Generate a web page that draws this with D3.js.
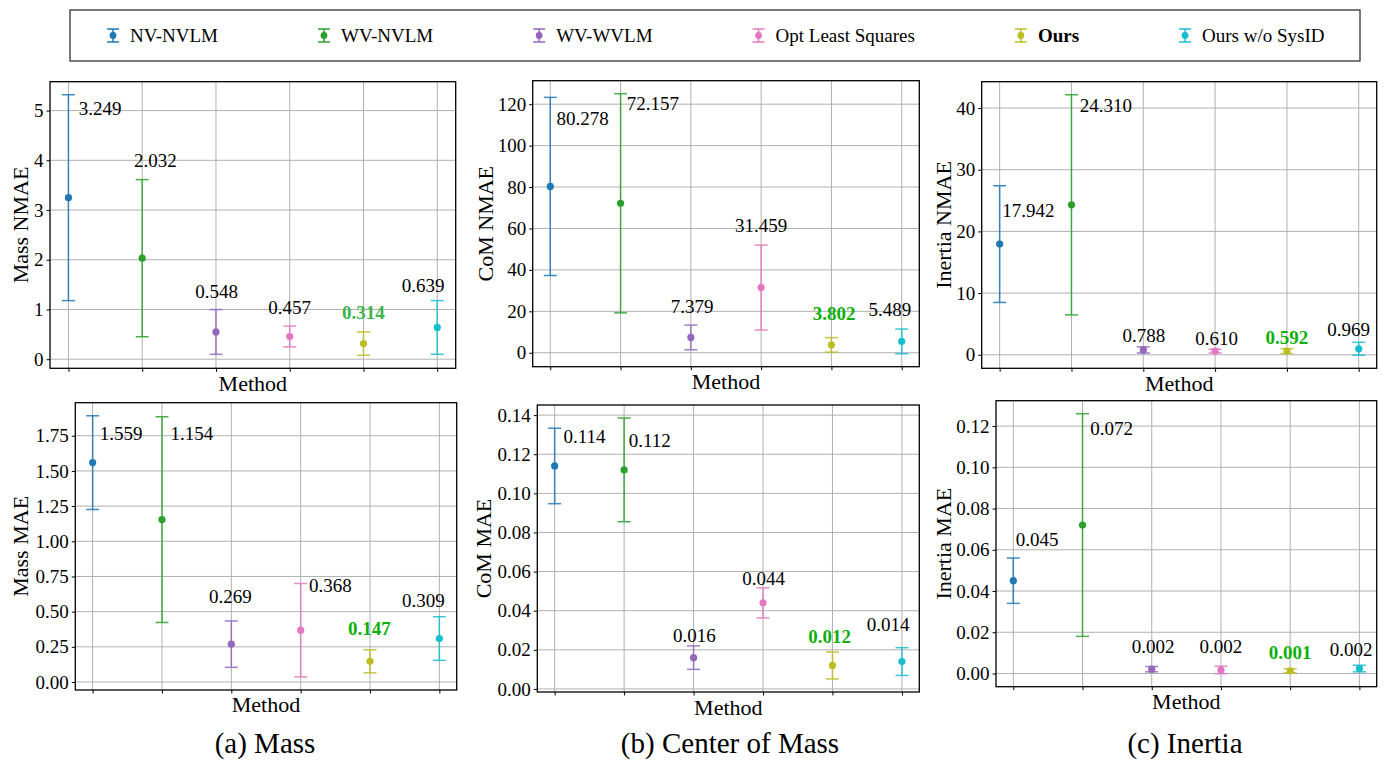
<!DOCTYPE html>
<html>
<head>
<meta charset="utf-8">
<script src="https://cdn.jsdelivr.net/npm/d3@7"></script>
<style>
  body { margin: 0; background: #fff; }
  svg text { font-family: "Liberation Serif", "Times New Roman", serif; }
  .axis path, .axis line { stroke: #000; }
  .axis text { font-size: 19px; fill: #000; }
</style>
</head>
<body>
<div id="chart"></div>
<script>

// ---- data ----
var methods = ["NV-NVLM", "WV-NVLM", "WV-WVLM", "Opt Least Squares", "Ours", "Ours w/o SysID"];
var colors  = ["#1f77b4", "#2ca02c", "#9467bd", "#e377c2", "#bcbd22", "#17becf"];

var massNmaeMean = [3.249, 2.032, 0.548, 0.457, 0.314, 0.639];
var massNmaeStd  = [2.07, 1.58, 0.45, 0.21, 0.235, 0.54];
var massNmaeTicks = [0, 1, 2, 3, 4, 5];

var comNmaeMean = [80.278, 72.157, 7.379, 31.459, 3.802, 5.489];
var comNmaeStd  = [43.0, 52.9, 5.95, 20.5, 3.5, 5.95];
var comNmaeTicks = [0, 20, 40, 60, 80, 100, 120];

var inertiaNmaeMean = [17.942, 24.310, 0.788, 0.610, 0.592, 0.969];
var inertiaNmaeStd  = [9.46, 17.85, 0.5, 0.3, 0.4, 1.05];
var inertiaNmaeTicks = [0, 10, 20, 30, 40];

var massMaeMean = [1.559, 1.154, 0.269, 0.368, 0.147, 0.309];
var massMaeStd  = [0.333, 0.731, 0.165, 0.332, 0.082, 0.155];
var massMaeTicks = [0, 0.25, 0.5, 0.75, 1.0, 1.25, 1.5, 1.75];

var comMaeMean = [0.114, 0.112, 0.016, 0.044, 0.012, 0.014];
var comMaeStd  = [0.0193, 0.0265, 0.006, 0.0077, 0.0069, 0.0071];
var comMaeTicks = [0, 0.02, 0.04, 0.06, 0.08, 0.10, 0.12, 0.14];

var inertiaMaeMean = [0.045, 0.072, 0.0021, 0.0017, 0.0013, 0.0024];
var inertiaMaeStd  = [0.011, 0.054, 0.0013, 0.0018, 0.001, 0.0016];
var inertiaMaeTicks = [0, 0.02, 0.04, 0.06, 0.08, 0.10, 0.12];

// value-label anchors, in data units (x = method index, y = value)
var massNmaeLabelX = [0.43, 1.18, 2.01, 3.0, 4.0, 4.81];
var massNmaeLabelY = [5.05, 4.0, 1.37, 1.04, 0.93, 1.49];
var comNmaeLabelX = [0.46, 1.46, 2.02, 3.0, 4.04, 4.83];
var comNmaeLabelY = [113.0, 120.5, 22.5, 61.4, 18.8, 21.0];
var inertiaNmaeLabelX = [0.40, 1.48, 2.01, 3.02, 4.0, 4.86];
var inertiaNmaeLabelY = [23.4, 40.46, 3.16, 2.62, 2.87, 4.1];
var massMaeLabelX = [0.41, 1.43, 1.985, 3.43, 3.99, 4.77];
var massMaeLabelY = [1.769, 1.769, 0.607, 0.684, 0.378, 0.579];
var comMaeLabelX = [0.43, 1.37, 2.01, 3.01, 3.96, 4.80];
var comMaeLabelY = [0.1293, 0.1272, 0.0275, 0.0564, 0.0269, 0.0331];
var inertiaMaeLabelX = [0.345, 1.42, 2.02, 3.0, 4.0, 4.88];
var inertiaMaeLabelY = [0.0648, 0.119, 0.0131, 0.0131, 0.0104, 0.0115];

var captions = ["(a) Mass", "(b) Center of Mass", "(c) Inertia"];

var svg = d3.select("#chart").append("svg")
    .attr("width", 1384)
    .attr("height", 760);


/*
 * ErrorPanel - one subplot with mean +/- std error bars
 */
ErrorPanel = function(_box, _mean, _std, _ticks, _fmt, _yLabel, _labelX, _labelY, _bestColor){
    this.box = _box;
    this.mean = _mean;
    this.std = _std;
    this.ticks = _ticks;
    this.fmt = _fmt;
    this.yLabel = _yLabel;
    this.labelX = _labelX;
    this.labelY = _labelY;
    this.bestColor = _bestColor;

    this.initVis();
}

ErrorPanel.prototype.initVis = function(){
    var vis = this;
    var b = vis.box;

    vis.width = b.right - b.left;
    vis.height = b.bottom - b.top;

    vis.g = svg.append("g")
        .attr("transform", "translate(" + b.left + "," + b.top + ")");

    vis.data = methods.map(function(m, i){
        return {i: i, name: m, mean: vis.mean[i], lo: vis.mean[i] - vis.std[i], hi: vis.mean[i] + vis.std[i]};
    });

    // matplotlib-like auto limits with 5% margin
    var lo = d3.min(vis.data, function(d){ return d.lo; }),
        hi = d3.max(vis.data, function(d){ return d.hi; }),
        pad = (hi - lo) * 0.05;

    vis.x = d3.scaleLinear().domain([-0.25, methods.length - 1 + 0.25]).range([0, vis.width]);
    vis.y = d3.scaleLinear().domain([lo - pad, hi + pad]).range([vis.height, 0]);

    // grid
    vis.g.append("g").selectAll("line.gy")
        .data(vis.ticks).enter().append("line")
        .attr("x1", 0).attr("x2", vis.width)
        .attr("y1", function(d){ return vis.y(d); })
        .attr("y2", function(d){ return vis.y(d); })
        .attr("stroke", "#b0b0b0").attr("stroke-width", 1);

    vis.g.append("g").selectAll("line.gx")
        .data(vis.data).enter().append("line")
        .attr("y1", 0).attr("y2", vis.height)
        .attr("x1", function(d){ return vis.x(d.i); })
        .attr("x2", function(d){ return vis.x(d.i); })
        .attr("stroke", "#b0b0b0").attr("stroke-width", 1);

    // error bars
    var bars = vis.g.append("g").selectAll("g.bar")
        .data(vis.data).enter().append("g")
        .attr("stroke", function(d){ return colors[d.i]; })
        .attr("stroke-width", 1.5)
        .attr("opacity", 0.85);

    bars.append("line")
        .attr("x1", function(d){ return vis.x(d.i); })
        .attr("x2", function(d){ return vis.x(d.i); })
        .attr("y1", function(d){ return vis.y(d.lo); })
        .attr("y2", function(d){ return vis.y(d.hi); });

    ["lo", "hi"].forEach(function(k){
        bars.append("line")
            .attr("x1", function(d){ return vis.x(d.i) - 6.5; })
            .attr("x2", function(d){ return vis.x(d.i) + 6.5; })
            .attr("y1", function(d){ return vis.y(d[k]); })
            .attr("y2", function(d){ return vis.y(d[k]); });
    });

    vis.g.append("g").selectAll("circle")
        .data(vis.data).enter().append("circle")
        .attr("cx", function(d){ return vis.x(d.i); })
        .attr("cy", function(d){ return vis.y(d.mean); })
        .attr("r", 3.6)
        .attr("fill", function(d){ return colors[d.i]; });

    // value labels
    vis.g.append("g").selectAll("text")
        .data(vis.data).enter().append("text")
        .attr("x", function(d){ return vis.x(vis.labelX[d.i]); })
        .attr("y", function(d){ return vis.y(vis.labelY[d.i]); })
        .attr("text-anchor", "middle")
        .attr("dominant-baseline", "central")
        .style("font-size", "19px")
        .style("font-weight", function(d){ return d.name === "Ours" ? "bold" : "normal"; })
        .attr("fill", function(d){ return d.name === "Ours" ? vis.bestColor : "#000"; })
        .text(function(d){ return d.mean.toFixed(3); });

    // axes
    vis.yAxis = d3.axisLeft(vis.y).tickValues(vis.ticks).tickFormat(d3.format(vis.fmt))
        .tickSizeInner(3.5).tickSizeOuter(0).tickPadding(3);
    vis.xAxis = d3.axisBottom(vis.x).tickValues(d3.range(methods.length)).tickFormat("")
        .tickSizeInner(3.5).tickSizeOuter(0);

    vis.g.append("g").attr("class", "axis").call(vis.yAxis)
        .call(function(g){ g.select(".domain").remove(); });
    vis.g.append("g").attr("class", "axis")
        .attr("transform", "translate(0," + vis.height + ")")
        .call(vis.xAxis)
        .call(function(g){ g.select(".domain").remove(); });

    vis.g.selectAll(".axis line").attr("stroke-width", 1);

    vis.g.append("rect")
        .attr("width", vis.width).attr("height", vis.height)
        .attr("fill", "none").attr("stroke", "#000").attr("stroke-width", 1.3);

    // axis titles
    vis.g.append("text")
        .attr("x", vis.width / 2)
        .attr("y", vis.height + 22.5)
        .attr("text-anchor", "middle")
        .style("font-size", "22px")
        .text("Method");

    vis.g.append("text")
        .attr("transform", "translate(" + (b.yLabelX - b.left) + "," + (vis.height / 2) + ") rotate(-90)")
        .attr("text-anchor", "middle")
        .attr("dominant-baseline", "central")
        .style("font-size", "22px")
        .text(vis.yLabel);
}


// ---- panels ----
new ErrorPanel({left: 50, top: 81.7, right: 455.7, bottom: 368.3, yLabelX: 20},
    massNmaeMean, massNmaeStd, massNmaeTicks, "d", "Mass NMAE", massNmaeLabelX, massNmaeLabelY, "#3cb44b");
new ErrorPanel({left: 532.7, top: 80.7, right: 919.3, bottom: 366.7, yLabelX: 485},
    comNmaeMean, comNmaeStd, comNmaeTicks, "d", "CoM NMAE", comNmaeLabelX, comNmaeLabelY, "#0cb00c");
new ErrorPanel({left: 981.7, top: 81.7, right: 1376.7, bottom: 368.3, yLabelX: 943.7},
    inertiaNmaeMean, inertiaNmaeStd, inertiaNmaeTicks, "d", "Inertia NMAE", inertiaNmaeLabelX, inertiaNmaeLabelY, "#0cb00c");
new ErrorPanel({left: 75.3, top: 402.7, right: 456.7, bottom: 690, yLabelX: 20},
    massMaeMean, massMaeStd, massMaeTicks, ".2f", "Mass MAE", massMaeLabelX, massMaeLabelY, "#0cb00c");
new ErrorPanel({left: 537.3, top: 405, right: 919.3, bottom: 692, yLabelX: 483},
    comMaeMean, comMaeStd, comMaeTicks, ".2f", "CoM MAE", comMaeLabelX, comMaeLabelY, "#0cb00c");
new ErrorPanel({left: 996, top: 400.7, right: 1376.7, bottom: 686.7, yLabelX: 943.7},
    inertiaMaeMean, inertiaMaeStd, inertiaMaeTicks, ".2f", "Inertia MAE", inertiaMaeLabelX, inertiaMaeLabelY, "#0cb00c");

// captions
var captionX = [265, 730, 1185];
svg.selectAll("text.caption")
    .data(captions).enter().append("text")
    .attr("class", "caption")
    .attr("x", function(d, i){ return captionX[i]; })
    .attr("y", 753)
    .attr("text-anchor", "middle")
    .style("font-size", "29px")
    .text(function(d){ return d; });


// ---- legend ----
var legend = svg.append("g");
legend.append("rect")
    .attr("x", 70).attr("y", 10).attr("width", 1290).attr("height", 51)
    .attr("fill", "#fff").attr("stroke", "#333").attr("stroke-width", 1.3);

var lx = 113, ly = 35.5;
methods.forEach(function(m, i){
    var item = legend.append("g");
    item.append("line").attr("x1", lx).attr("x2", lx).attr("y1", ly - 6.5).attr("y2", ly + 6.5)
        .attr("stroke", colors[i]).attr("stroke-width", 1.5);
    [-6.5, 6.5].forEach(function(dy){
        item.append("line").attr("x1", lx - 6).attr("x2", lx + 6).attr("y1", ly + dy).attr("y2", ly + dy)
            .attr("stroke", colors[i]).attr("stroke-width", 1.5);
    });
    item.append("circle").attr("cx", lx).attr("cy", ly).attr("r", 3.4).attr("fill", colors[i]);
    var t = item.append("text")
        .attr("x", lx + 17).attr("y", ly)
        .attr("dominant-baseline", "central")
        .style("font-size", "19px")
        .style("font-weight", m === "Ours" ? "bold" : "normal")
        .text(m);
    lx = lx + 17 + t.node().getComputedTextLength() + 106;
});

</script>
</body>
</html>
